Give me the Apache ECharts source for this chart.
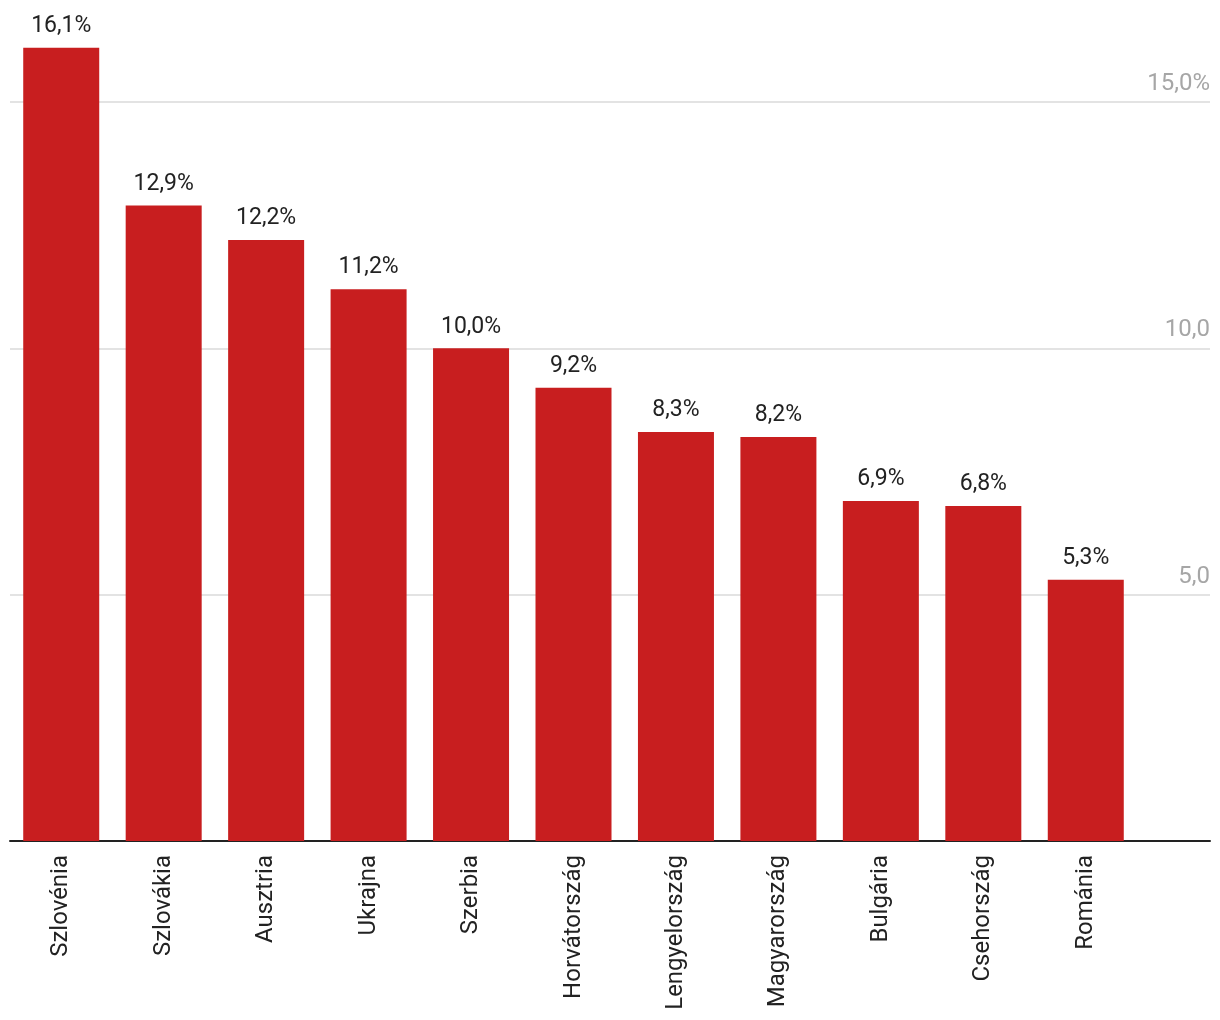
<!DOCTYPE html>
<html>
<head>
<meta charset="utf-8">
<script src="https://cdn.jsdelivr.net/npm/echarts@6/dist/echarts.min.js"></script>
<style>html,body{margin:0;padding:0;background:#fff}#c{width:1220px;height:1020px}</style>
</head>
<body>
<div id="c"></div>
<script>
const categories = ['Szlovénia','Szlovákia','Ausztria','Ukrajna','Szerbia','Horvátország','Lengyelország','Magyarország','Bulgária','Csehország','Románia'];
const values = [16.1, 12.9, 12.2, 11.2, 10.0, 9.2, 8.3, 8.2, 6.9, 6.8, 5.3];
const yTickLabels = {5: '5,0', 10: '10,0', 15: '15,0%'};

const fmt = v => v.toFixed(1).replace('.', ',') + '%';
const chart = echarts.init(document.getElementById('c'));
chart.setOption({
  animation: false,
  textStyle: {fontFamily: 'Roboto'},
  grid: [
    {left: 10, right: 83, top: 3.4, bottom: 179, containLabel: false},
    {left: 10, right: 10, top: 102, bottom: 179, containLabel: false}
  ],
  xAxis: [
    {type: 'category', gridIndex: 0, data: categories, boundaryGap: true,
     axisLine: {show: false}, axisTick: {show: false},
     axisLabel: {rotate: 90, margin: 14, fontSize: 24, color: '#222', fontFamily: 'Roboto', interval: 0}},
    {type: 'value', gridIndex: 1, min: 0, max: 1, show: true,
     axisLine: {show: true, onZero: false, lineStyle: {color: '#222', width: 2}},
     axisTick: {show: false}, axisLabel: {show: false}, splitLine: {show: false}}
  ],
  yAxis: [
    {type: 'value', gridIndex: 0, min: 0, max: 17, show: false},
    {type: 'value', gridIndex: 1, min: 0, max: 15, interval: 5, position: 'right',
     axisLine: {show: false}, axisTick: {show: false},
     splitLine: {show: true, lineStyle: {color: '#e3e3e3', width: 2}},
     axisLabel: {inside: true, margin: 0, fontSize: 24, color: '#a6a6a6', fontFamily: 'Roboto',
       verticalAlign: 'bottom', lineHeight: 24, padding: [0, 0, 6, 0], align: 'right',
       formatter: v => yTickLabels[v] || ''}}
  ],
  series: [{
    type: 'bar', xAxisIndex: 0, yAxisIndex: 0, data: values, barWidth: 76,
    itemStyle: {color: '#c81e1f'},
    label: {show: true, position: 'top', distance: 10, fontSize: 23, color: '#222', fontFamily: 'Roboto', formatter: p => fmt(p.value)}
  }]
});
</script>
</body>
</html>
